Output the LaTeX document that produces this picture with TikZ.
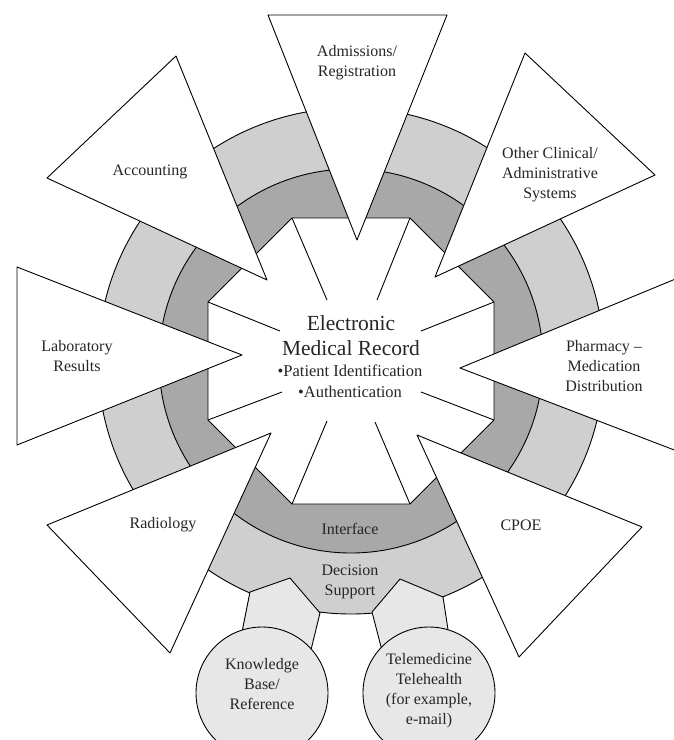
\documentclass[tikz,border=0pt]{standalone}
\usepackage{fontspec}
\setmainfont{Liberation Serif}
\definecolor{lightband}{gray}{0.81}
\definecolor{darkband}{gray}{0.66}
\definecolor{paleshape}{gray}{0.905}
\tikzset{
  outline/.style={draw=black, line width=0.9pt, line join=round},
  spoke/.style={outline, fill=white},
  lbl/.style={align=center, inner sep=0pt, font=\fontsize{16}{20}\selectfont, text=black!85},
  ttl/.style={anchor=base, inner sep=0pt, font=\fontsize{21.5}{25}\selectfont, text=black!85},
  bul/.style={anchor=base, inner sep=0pt, font=\fontsize{16.5}{20}\selectfont, text=black!85},
  spokeline/.style={draw=black, line width=0.9pt},
}
\begin{document}
\begin{tikzpicture}[x=1pt,y=-1pt]
\useasboundingbox (0,0) rectangle (674,740);
\fill[white] (0,0) rectangle (674,740);
\clip (0,0) rectangle (674,740);
\coordinate (C) at (351,361);
% ring
\draw[outline, fill=lightband] (C) circle[radius=253];
\draw[outline, fill=darkband] (C) circle[radius=192];
% octagon
\coordinate (v1) at (410,218);
\coordinate (v2) at (292,218);
\coordinate (v3) at (208,302);
\coordinate (v4) at (208,420);
\coordinate (v5) at (292,504);
\coordinate (v6) at (410,504);
\coordinate (v7) at (494,420);
\coordinate (v8) at (494,302);
\draw[outline, fill=white] (v1) -- (v2) -- (v3) -- (v4) -- (v5) -- (v6) -- (v7) -- (v8) -- cycle;
% radial lines
\coordinate (w1) at (377,300);
\coordinate (w2) at (327,300);
\coordinate (w3) at (280,331);
\coordinate (w4) at (282,392);
\coordinate (w5) at (327,421);
\coordinate (w6) at (375,422);
\coordinate (w7) at (421,392);
\coordinate (w8) at (421,331);
\foreach \i in {1,...,8} \draw[spokeline] (v\i) -- (w\i);
% spokes (triangles)
\draw[spoke] (268,15) -- (447,15) -- (357,240) -- cycle;
\draw[spoke] (176,56) -- (47,178) -- (267,280) -- cycle;
\draw[spoke] (525,53) -- (655,175) -- (435,277) -- cycle;
\draw[spoke] (17,267) -- (17,445) -- (242,355) -- cycle;
\draw[spoke] (460,368) -- (690,273) -- (690,456) -- cycle;
\draw[spoke] (271,433) -- (47,525) -- (170,653) -- cycle;
\draw[spoke] (417,435) -- (642,527) -- (519,657) -- cycle;
% pentagon connectors
\draw[outline, fill=paleshape] (236,662) -- (250,592) -- (290,578) -- (320,613) -- (308,662) -- cycle;
\draw[outline, fill=paleshape] (385,662) -- (372,612) -- (400,579) -- (443,597) -- (453,662) -- cycle;
% circles
\node[circle, outline, fill=paleshape, minimum size=132pt, inner sep=0pt] (kb) at (262,693) {};
\node[circle, outline, fill=paleshape, minimum size=132pt, inner sep=0pt] (tm) at (429,693) {};
% labels
\node[lbl] (adm) at (357,63) {Admissions/\\Registration};
\node[lbl] (acc) at (150,172) {Accounting};
\node[lbl] (oth) at (550,175) {Other Clinical/\\Administrative\\Systems};
\node[lbl] (lab) at (77,356) {Laboratory\\Results};
\node[lbl] (pha) at (604,366) {Pharmacy --\\Medication\\Distribution};
\node[lbl] (rad) at (163,525) {Radiology};
\node[lbl] (cpoe) at (521,525) {CPOE};
\node[lbl] (int) at (350,529) {Interface};
\node[lbl] (dec) at (350,582) {Decision\\Support};
\node[lbl] (kbt) at (262,684) {Knowledge\\Base/\\Reference};
\node[lbl] (tmt) at (429,691) {Telemedicine\\Telehealth\\(for example,\\e-mail)};
% center
\node[ttl] (e1) at (351,330) {Electronic};
\node[ttl] (e2) at (351,355) {Medical Record};
\node[bul] (e3) at (350,376) {•Patient Identification};
\node[bul] (e4) at (350,397) {•Authentication};
\end{tikzpicture}
\end{document}
